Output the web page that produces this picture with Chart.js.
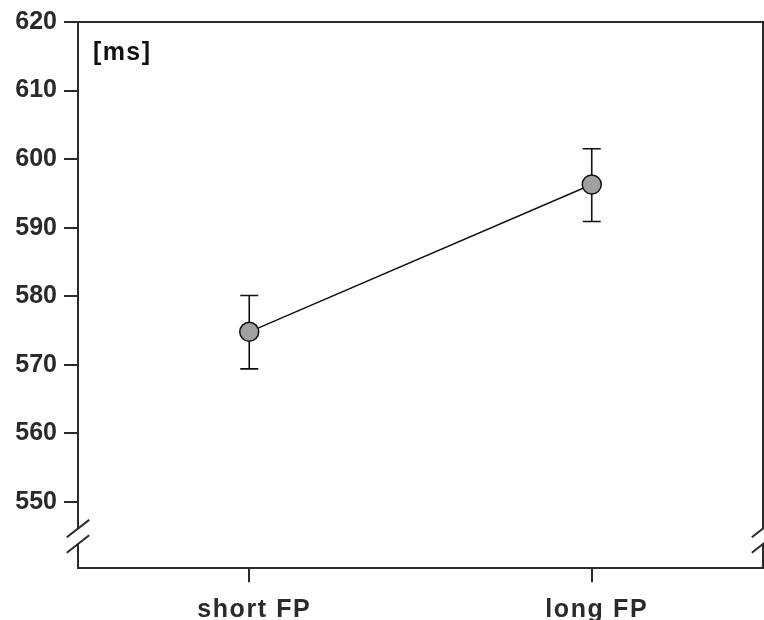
<!DOCTYPE html>
<html>
<head>
<meta charset="utf-8">
<script src="https://cdn.jsdelivr.net/npm/chart.js@4.4.1/dist/chart.umd.min.js"></script>
<style>
  html, body { margin: 0; padding: 0; background: #ffffff; }
  #wrap { width: 764px; height: 620px; }
</style>
</head>
<body>
<div id="wrap"><canvas id="c" width="764" height="620"></canvas></div>
<script>
// ---- data ----
const categories = ["short FP", "long FP"];
const meanRT = [574.8, 596.3];
const errUpper = [580.1, 601.5];
const errLower = [569.4, 590.9];
const yTickValues = [550, 560, 570, 580, 590, 600, 610, 620];
const yMin = 540.3;
const yMax = 620;
const unitLabel = "[ms]";

const INK = "#2a2a2a";
const FONT = "'Liberation Sans', Arial, Helvetica, sans-serif";

const errorBarPlugin = {
  id: "errorBars",
  beforeDraw(chart) {
    const xs = chart.scales.x;
    if (!xs._spaced) {
      const base = Object.getPrototypeOf(xs).drawLabels;
      xs.drawLabels = function (area) {
        const ctx = this.ctx;
        ctx.save();
        ctx.letterSpacing = "1.6px";
        base.call(this, area);
        ctx.restore();
      };
      xs._spaced = true;
    }
  },
  beforeDatasetsDraw(chart) {
    const ctx = chart.ctx;
    const xs = chart.scales.x, ys = chart.scales.y;
    ctx.save();
    ctx.strokeStyle = "#111";
    ctx.lineWidth = 1.6;
    for (let i = 0; i < categories.length; i++) {
      const x = xs.getPixelForValue(i);
      const yt = ys.getPixelForValue(errUpper[i]);
      const yb = ys.getPixelForValue(errLower[i]);
      ctx.beginPath();
      ctx.moveTo(x, yt); ctx.lineTo(x, yb);
      ctx.moveTo(x - 9, yt); ctx.lineTo(x + 9, yt);
      ctx.moveTo(x - 9, yb); ctx.lineTo(x + 9, yb);
      ctx.stroke();
    }
    ctx.restore();
  }
};

const framePlugin = {
  id: "frame",
  afterDraw(chart) {
    const ctx = chart.ctx;
    const a = chart.chartArea;
    ctx.save();
    ctx.strokeStyle = INK;
    ctx.lineWidth = 2;
    // top and right border
    ctx.beginPath();
    ctx.moveTo(a.left - 1, a.top);
    ctx.lineTo(a.right, a.top);
    ctx.lineTo(a.right, a.bottom);
    ctx.stroke();
    // axis breaks
    const y1 = a.bottom - 39.7, y2 = a.bottom - 24.3;
    [a.left, a.right].forEach(x => {
      ctx.fillStyle = "#ffffff";
      ctx.fillRect(x - 3, y1, 6, y2 - y1);
      ctx.beginPath();
      [y1, y2].forEach(y => {
        ctx.moveTo(x - 11.2, y + 8.7);
        ctx.lineTo(x + 11.2, y - 8.7);
      });
      ctx.stroke();
    });
    // unit label
    ctx.fillStyle = "#111";
    ctx.font = "bold 25px " + FONT;
    ctx.letterSpacing = "1.4px";
    ctx.textBaseline = "top";
    ctx.textAlign = "left";
    ctx.fillText(unitLabel, a.left + 15, a.top + 19);
    ctx.restore();
  }
};

new Chart(document.getElementById("c"), {
  type: "line",
  data: {
    labels: categories,
    datasets: [{
      data: meanRT,
      borderColor: "#111",
      borderWidth: 1.5,
      pointRadius: 9.5,
      pointHoverRadius: 9.5,
      pointBackgroundColor: "#a0a0a0",
      pointBorderColor: "#111",
      pointBorderWidth: 1.5,
      tension: 0
    }]
  },
  options: {
    responsive: false,
    devicePixelRatio: 1,
    animation: false,
    events: [],
    layout: { autoPadding: false, padding: { top: 22, right: 1, left: 0, bottom: 0 } },
    plugins: { legend: { display: false }, tooltip: { enabled: false } },
    scales: {
      x: {
        type: "category",
        offset: true,
        grid: { display: true, offset: false, drawOnChartArea: false, drawTicks: true, tickLength: 14, color: INK, lineWidth: 2 },
        border: { display: true, color: INK, width: 2 },
        ticks: { color: INK, font: { family: FONT, size: 25, weight: "bold" }, padding: 13, labelOffset: 5, maxRotation: 0 },
        afterFit(s) { s.height = 51.7; s.paddingLeft = 0; s.paddingRight = 0; }
      },
      y: {
        min: yMin,
        max: yMax,
        afterBuildTicks(s) { s.ticks = yTickValues.map(v => ({ value: v })); },
        grid: { display: true, drawOnChartArea: false, drawTicks: true, tickLength: 14, color: INK, lineWidth: 2 },
        border: { display: true, color: INK, width: 2 },
        ticks: { color: INK, font: { family: FONT, size: 25, weight: "bold" }, padding: 7 },
        afterFit(s) { s.width = 78; }
      }
    }
  },
  plugins: [errorBarPlugin, framePlugin]
});
</script>
</body>
</html>
